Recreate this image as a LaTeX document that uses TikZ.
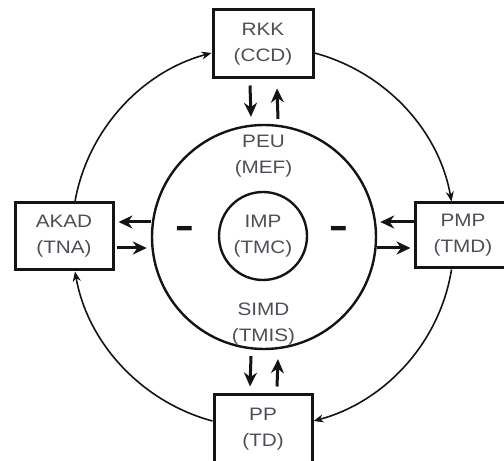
\documentclass[tikz,border=0pt]{standalone}
\usepackage{fontspec}
\newfontfamily\lbl[FakeStretch=1.15]{Liberation Sans}
\usetikzlibrary{arrows.meta}
\definecolor{txtgray}{RGB}{78,78,86}
\definecolor{ink}{RGB}{20,20,20}
\tikzset{
  boxnode/.style={draw=ink, line width=3pt, fill=white, minimum width=100pt, minimum height=68pt,
    inner sep=0pt, align=center, text=txtgray, font=\lbl\fontsize{18}{26}\selectfont},
  ringnode/.style={draw=ink, line width=2.4pt, circle, inner sep=0pt},
  lbltext/.style={align=center, text=txtgray, font=\lbl\fontsize{18}{26}\selectfont, inner sep=0pt},
  dashnode/.style={text=ink, font=\lbl\fontsize{26}{26}\selectfont\bfseries, inner sep=0pt},
  flow/.style={draw=ink, line width=3pt, -{Stealth[length=14pt,width=13pt]}},
  cyc/.style={draw=ink, line width=1.6pt, -{Stealth[length=10pt,width=8pt]}, looseness=0.92}
}
\begin{document}
\begin{tikzpicture}[x=1pt,y=1pt]
\useasboundingbox (0,0) rectangle (504,461);
\clip (0,0) rectangle (504,461);
% rings
\node[ringnode, minimum size=224pt] (big) at (264,224) {};
\node[ringnode, minimum size=88pt, lbltext] (imp) at (263,225) {IMP\\(TMC)};
\node[lbltext] (peu) at (263.5,305) {PEU\\(MEF)};
\node[lbltext] (simd) at (263.5,137) {SIMD\\(TMIS)};
\node[dashnode] (dl) at (185,228) {\scalebox{1}[1.7]{–}};
\node[dashnode] (dr) at (339,228) {\scalebox{1}[1.7]{–}};
% boxes
\node[boxnode] (rkk) at (263,417) {RKK\\(CCD)};
\node[boxnode, minimum width=98pt, minimum height=67pt] (akad) at (64,224.5) {AKAD\\(TNA)};
\node[boxnode, minimum width=96pt, minimum height=65pt] (pmp) at (463,225.5) {PMP\\(TMD)};
\node[boxnode, minimum width=98pt] (pp) at (263,32) {PP\\(TD)};
% outer cycle
\draw[cyc] ([xshift=11pt]akad.north) to[out=80,in=195] ([yshift=-9pt]rkk.west);
\draw[cyc] ([yshift=-9pt]rkk.east) to[out=-15,in=100] ([xshift=-11.5pt]pmp.north);
\draw[cyc] ([xshift=-11.5pt]pmp.south) to[out=-99,in=15] ([yshift=8pt]pp.east);
\draw[cyc] ([yshift=8pt]pp.west) to[out=165,in=-80] ([xshift=11pt]akad.south);
% exchange arrows top
\draw[flow] ([xshift=-13pt,yshift=-6pt]rkk.south) -- ([xshift=-13pt,yshift=7pt]big.north);
\draw[flow] ([xshift=14pt,yshift=5pt]big.north) -- ([xshift=14pt,yshift=-9pt]rkk.south);
% bottom
\draw[flow] ([xshift=-13pt,yshift=-6pt]big.south) -- ([xshift=-13pt,yshift=7pt]pp.north);
\draw[flow] ([xshift=14pt,yshift=7pt]pp.north) -- ([xshift=14pt,yshift=-9pt]big.south);
% left
\draw[flow] ([yshift=15pt]big.west) -- ([xshift=4pt,yshift=14.5pt]akad.east);
\draw[flow] ([xshift=2pt,yshift=-11.5pt]akad.east) -- ([xshift=-4pt,yshift=-11pt]big.west);
% right
\draw[flow] ([yshift=13.5pt]pmp.west) -- ([xshift=3pt,yshift=15pt]big.east);
\draw[flow] ([xshift=0pt,yshift=-11pt]big.east) -- ([xshift=-3pt,yshift=-12.5pt]pmp.west);
\end{tikzpicture}
\end{document}
